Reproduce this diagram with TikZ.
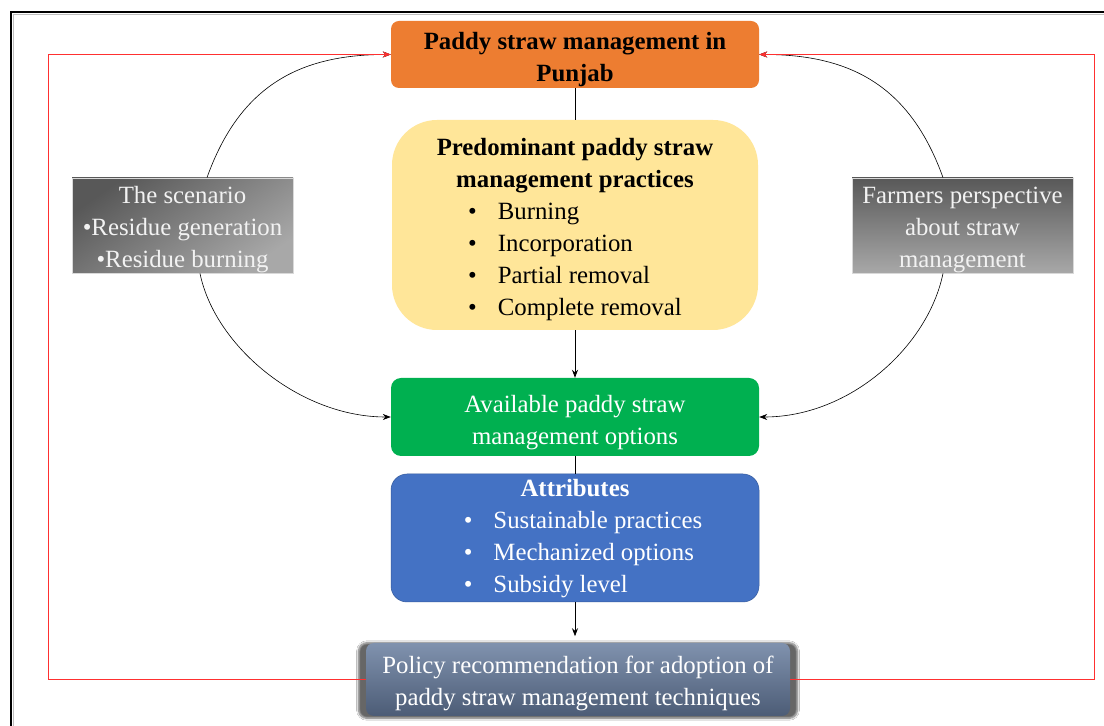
\documentclass[tikz,border=0pt]{standalone}
\usepackage{fontspec}
\setmainfont{Liberation Serif}
\usetikzlibrary{arrows.meta,shadows.blur}
\definecolor{orangeC}{HTML}{ED7D31}
\definecolor{yellowC}{HTML}{FFE699}
\definecolor{greenC}{HTML}{00B050}
\definecolor{blueC}{HTML}{4472C4}
\definecolor{polTop}{HTML}{8092AE}
\definecolor{polBot}{HTML}{4C5C76}
\definecolor{grayDark}{HTML}{585858}
\definecolor{grayLight}{HTML}{A8A8A8}
\definecolor{redC}{HTML}{FF3030}
\newcommand{\tstrut}[1]{\rule{0pt}{#1}}
\begin{document}
\begin{tikzpicture}[x=1pt,y=1pt,
  box/.style={rounded corners=8pt, minimum width=368pt, align=center, inner sep=0pt,
    font=\fontsize{24.8}{32}\selectfont},
  graybox/.style={minimum width=221pt, minimum height=95pt, align=center, inner sep=0pt,
    text=white!95!black, draw=white!85!black, line width=0.5pt, font=\fontsize{24.8}{32}\selectfont},
  conn/.style={draw=black, line width=0.8pt},
  arr/.style={conn, -{Stealth[length=8pt,width=6pt]}},
  curvearr/.style={draw=black, line width=0.6pt, -{Stealth[length=8pt,width=6pt]}},
  redarr/.style={draw=redC, line width=0.8pt, -{Stealth[length=8pt,width=6pt]}}
]
\useasboundingbox (0,0) rectangle (1104,726);
\fill[white] (0,0) rectangle (1104,726);
% frame
\draw[gray!50, line width=1.2pt] (13.5,0) -- (13.5,711.5) -- (1104,711.5);
\draw[black, line width=1.5pt] (11,0) -- (11,714) -- (1104,714);

% main boxes
\node[box, fill=orangeC, minimum height=67pt] (org) at (575,671.5)
  {\tstrut{28pt}\textbf{Paddy straw management in}\\\textbf{Punjab}};
\node[box, fill=yellowC, minimum width=366pt, minimum height=210pt, rounded corners=45pt] (yel) at (575,501)
  {\tstrut{31pt}\textbf{Predominant paddy straw}\\\textbf{management practices}\\
   \begin{tabular}[t]{@{}l@{\hspace{21pt}}l@{}}•&Burning\\•&Incorporation\\•&Partial removal\\•&Complete removal\end{tabular}};
\node[box, fill=greenC, text=white, minimum height=78pt, rounded corners=10pt] (grn) at (575,309)
  {\tstrut{28pt}Available paddy straw\\management options};
\node[box, fill=blueC, text=white, minimum height=128pt, rounded corners=16pt, draw=blueC!80!black, line width=0.5pt] (blu) at (575,188)
  {\tstrut{22.4pt}\textbf{Attributes}\\\hspace*{16pt}\begin{tabular}[t]{@{}l@{\hspace{21pt}}l@{}}•&Sustainable practices\\•&Mechanized options\\•&Subsidy level\end{tabular}};
\node[box, top color=polTop, bottom color=polBot, text=white, minimum width=424pt, minimum height=73pt,
  blur shadow={shadow xshift=0pt, shadow yshift=-1pt, shadow scale=1.035, shadow blur steps=8, shadow opacity=60}] (pol) at (578,46.5)
  {\tstrut{26pt}Policy recommendation for adoption of\\paddy straw management techniques};

% side boxes
\node[graybox, top color=grayDark, bottom color=grayLight, shading angle=35] (lg) at (182.5,500.5)
  {\tstrut{26pt}The scenario\\•Residue generation\\•Residue burning};
\node[graybox, top color=grayDark, bottom color=grayLight] (rg) at (962.5,500.5)
  {\tstrut{26pt}Farmers perspective\\about straw\\management};

% vertical connectors
\draw[conn] (org.south) -- (yel.north);
\draw[arr] (yel.south) -- (grn.north);
\draw[conn] (grn.south) -- (blu.north);
\draw[arr] (blu.south) -- ++(0,-34);

% curved connectors
\draw[curvearr] ([xshift=24.5pt]lg.north) .. controls +(33,92) and +(-91,0) .. (org.west);
\draw[curvearr] ([xshift=17.5pt]lg.south) .. controls +(15,-73) and +(-91,0) .. (grn.west);
\draw[curvearr] ([xshift=-19.5pt]rg.north) .. controls +(-33,92) and +(91,0) .. (org.east);
\draw[curvearr] ([xshift=-19.5pt]rg.south) .. controls +(-15,-73) and +(91,0) .. (grn.east);

% red feedback loops
\coordinate (rl) at (48,46.5);
\coordinate (rr) at (1094,46.5);
\draw[redarr] (pol.west) -- (rl) |- (org.west);
\draw[redarr] (pol.east) -- (rr) |- (org.east);
\end{tikzpicture}
\end{document}
